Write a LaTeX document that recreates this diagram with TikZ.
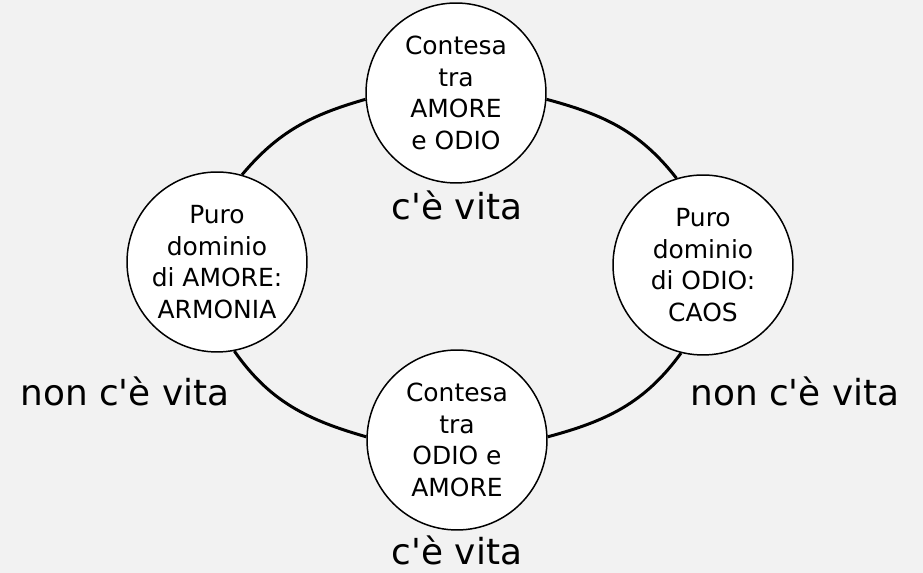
\documentclass[tikz,border=0pt]{standalone}
\usepackage{fontspec}
\setmainfont{DejaVu Sans}[Ligatures=TeXOff]
\usetikzlibrary{backgrounds}
\begin{document}
\begin{tikzpicture} [x=0.02cm,y=0.02cm,
        fase/.style={circle,draw,line width=0.85pt,fill=white,minimum size=3.6cm,inner sep=0pt,align=center,font=\fontsize{14.2}{18.1}\selectfont},
        vita/.style={anchor=base,font=\fontsize{20.4}{24}\selectfont},
        ciclo/.style={line width=1.7pt}]
%sfondo
        \begin{scope}[on background layer]
        \fill [gray!10] (0,0) rectangle (923,573);
        \end{scope}
        \useasboundingbox (0,0) rectangle (923,573);
%fasi
        \node[fase] (contesa1) at (456,480) {Contesa\\tra\\AMORE\\e ODIO};
        \node[fase] (armonia) at (217,311) {Puro\\dominio\\di AMORE:\\ARMONIA};
        \node[fase] (caos) at (703,308) {Puro\\dominio\\di ODIO:\\CAOS};
        \node[fase] (contesa2) at (457,133) {Contesa\\tra\\ODIO e\\AMORE};
%ciclo
        \begin{scope}[on background layer]
        \draw [ ciclo ] (contesa1.184) to[out=196,in=50] (armonia.74);
        \draw [ ciclo ] (armonia.281) to[out=305,in=164] (contesa2.178);
        \draw [ ciclo ] (contesa2.2) to[out=15,in=234] (caos.256);
        \draw [ ciclo ] (caos.107) to[out=128,in=345] (contesa1.356);
        \end{scope}
%vita
        \node[vita] (vita1) at (457,353) {c'è vita};
        \node[vita] (vita2) at (457,8) {c'è vita};
        \node[vita] (nonvita1) at (125,167) {non c'è vita};
        \node[vita] (nonvita2) at (795,167) {non c'è vita};
\end{tikzpicture}
\end{document}
